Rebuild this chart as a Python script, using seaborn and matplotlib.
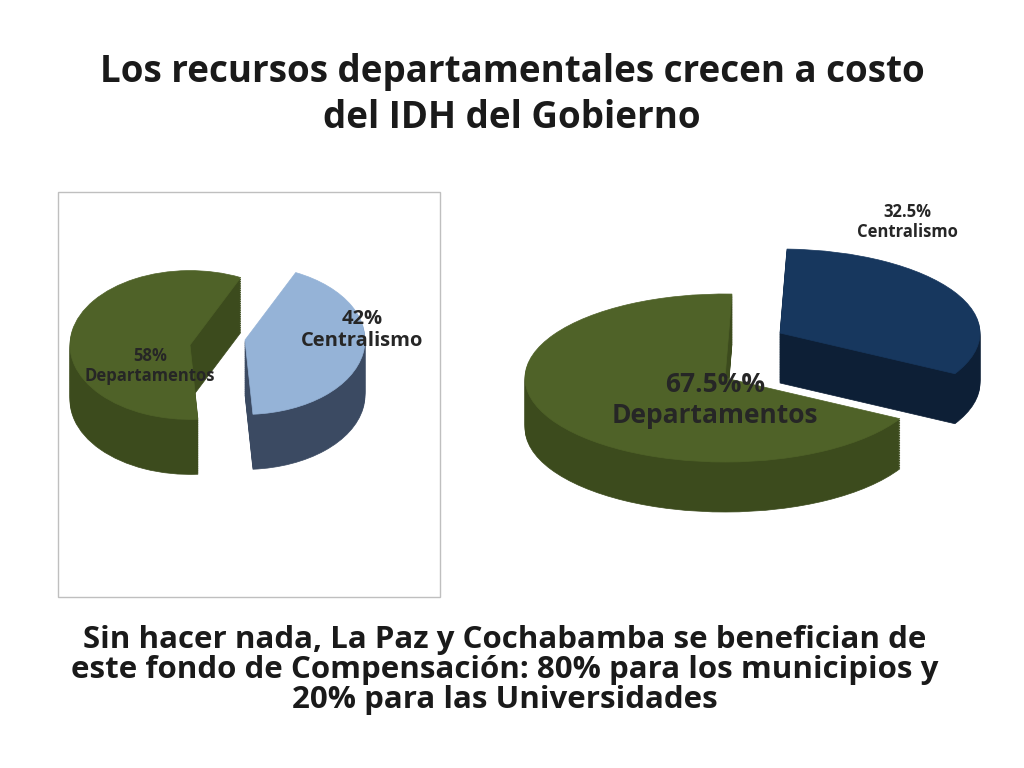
import matplotlib.pyplot as plt
import matplotlib.patches as mpatches
import seaborn as sns

# data
left_labels = ["Centralismo", "Departamentos"]
left_values = [42, 58]
right_labels = ["Centralismo", "Departamentos"]
right_values = [32.5, 67.5]

TITLE = "Los recursos departamentales crecen a costo\ndel IDH del Gobierno"
FOOTER = ("Sin hacer nada, La Paz y Cochabamba se benefician de\n"
          "este fondo de Compensación: 80% para los municipios y\n"
          "20% para las Universidades")

sns.set_theme(style="white")
plt.rcParams["font.family"] = "Open Sans"

W, H = 1024, 768
fig = plt.figure(figsize=(W / 100, H / 100), dpi=100)
fig.patch.set_facecolor("white")


def px(x, y):
    return x / W, 1 - y / H


def pie3d(region, squash, center, radius, values, start, colors, sides, offsets, depth):
    x0, y0, x1, y1 = region
    ax = fig.add_axes([x0 / W, 1 - y1 / H, (x1 - x0) / W, (y1 - y0) / H])
    ax.set_xlim(0, x1 - x0)
    ax.set_ylim(0, (y1 - y0) / squash)
    ax.axis("off")
    cx, cy = center[0] - x0, (y1 - center[1]) / squash
    total = sum(values)
    angles = []
    a = start
    for v in values:
        span = 360 * v / total
        angles.append((a - span, a))
        a -= span
    n = 30
    for k in range(n, -1, -1):
        dy = depth / squash * k / n
        for (t1, t2), col, side, (ox, oy) in zip(angles, colors, sides, offsets):
            c = (cx + ox, cy - oy / squash - dy)
            ax.add_patch(mpatches.Wedge(c, radius, t1, t2,
                                        facecolor=col if k == 0 else side,
                                        edgecolor=col if k == 0 else side, lw=0.5))
    return ax


# left pie with frame
frame = mpatches.Rectangle(px(58, 597), 382 / W, 405 / H, transform=fig.transFigure,
                           fill=False, edgecolor="#bfbfbf", lw=1)
fig.patches.append(frame)
pie3d((60, 195, 440, 595), 0.62, (190, 345), 120, left_values, 65,
      ["#95b3d7", "#4f6228"], ["#3b4a62", "#3c4b1d"],
      [(55, -5), (0, 0)], 55)

# right pie
pie3d((500, 170, 1000, 530), 0.42, (725, 378), 200, right_values, 88,
      ["#17375e", "#4f6228"], ["#0d1f36", "#3c4b1d"],
      [(55, -45), (0, 0)], 50)

fig.text(*px(512, 95), TITLE, ha="center", va="center", fontsize=26.5,
         fontweight="bold", color="#1a1a1a", linespacing=1.25)
lab = dict(ha="center", va="center", fontweight="bold", color="#262626")
fig.text(*px(150, 366), f"{left_values[1]}%\n{left_labels[1]}", fontsize=12, **lab)
fig.text(*px(362, 330), f"{left_values[0]}%\n{left_labels[0]}", fontsize=14.5, **lab)
fig.text(*px(907, 222), f"{right_values[0]}%\n{right_labels[0]}", fontsize=12, **lab)
fig.text(*px(715, 400), f"{right_values[1]}%%\n{right_labels[1]}", fontsize=19, **lab)
fig.text(*px(505, 670), FOOTER, ha="center", va="center", fontsize=22.5,
         fontweight="bold", color="#1a1a1a", linespacing=1.0)

fig.savefig("out.png", dpi=100)
